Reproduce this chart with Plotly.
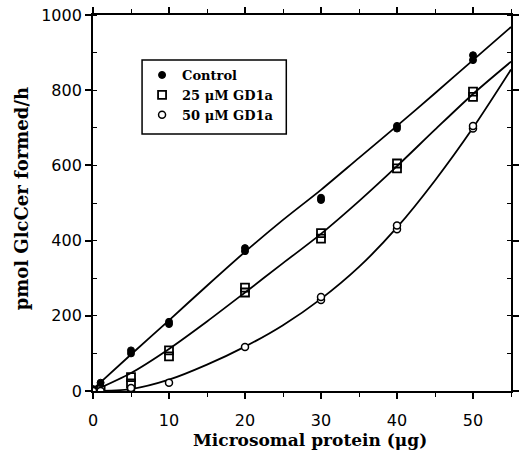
import plotly.graph_objects as go

# measured points (replicates)
x_ctrl = [0, 1, 5, 5, 10, 10, 20, 20, 30, 30, 40, 40, 50, 50]
y_ctrl = [5, 22, 100, 108, 178, 184, 372, 380, 508, 514, 698, 705, 880, 893]

x_gd25 = [0, 1, 5, 5, 10, 10, 20, 20, 30, 30, 40, 40, 50, 50]
y_gd25 = [0, 3, 20, 37, 92, 108, 262, 275, 405, 420, 592, 605, 782, 796]

x_gd50 = [0, 1, 5, 5, 10, 20, 30, 30, 40, 40, 50, 50]
y_gd50 = [0, 0, 3, 8, 22, 117, 242, 250, 430, 440, 698, 705]

# fitted curves
curve_x = [0, 5, 10, 15, 20, 25, 30, 35, 40, 45, 50, 55]
curve_ctrl = [5, 97, 188, 280, 370, 455, 535, 620, 705, 792, 880, 968]
curve_gd25 = [0, 48, 112, 185, 262, 340, 418, 505, 598, 695, 790, 876]
curve_gd50 = [0, 5, 30, 70, 118, 175, 245, 330, 435, 560, 700, 855]

names = ["Control", "25 \u03bcM GD1a", "50 \u03bcM GD1a"]
x_ticks = [0, 10, 20, 30, 40, 50]
y_ticks = [0, 200, 400, 600, 800, 1000]
x_title = "Microsomal protein (\u03bcg)"
y_title = "pmol GlcCer formed/h"

W, H = 524, 451
ML, MR, MT, MB = 93, 5, 15, 60
PW, PH = W - ML - MR, H - MT - MB


def px(x):
    return (x - ML) / PW


def py(y):
    return (H - MB - y) / PH


fig = go.Figure()
for cy in (curve_ctrl, curve_gd25, curve_gd50):
    fig.add_trace(go.Scatter(x=curve_x, y=cy, mode="lines", showlegend=False,
                             line=dict(color="black", width=1.8, shape="spline", smoothing=0.8),
                             hoverinfo="skip"))

fig.add_trace(go.Scatter(x=x_ctrl, y=y_ctrl, mode="markers", name=names[0],
                         marker=dict(symbol="circle", size=7, color="black",
                                     line=dict(color="black", width=1))))
fig.add_trace(go.Scatter(x=x_gd25, y=y_gd25, mode="markers", name=names[1],
                         marker=dict(symbol="square-open", size=8, color="black",
                                     line=dict(color="black", width=1.8))))
fig.add_trace(go.Scatter(x=x_gd50, y=y_gd50, mode="markers", name=names[2],
                         marker=dict(symbol="circle", size=7, color="white",
                                     line=dict(color="black", width=1.5))))

tickfont = dict(family="DejaVu Sans, Liberation Sans", size=16, color="black")
serif = "DejaVu Serif, Liberation Serif"

# legend frame
fig.add_shape(type="rect", xref="paper", yref="paper",
              x0=px(143), x1=px(290), y0=py(134), y1=py(60),
              line=dict(color="black", width=1.5), fillcolor="rgba(0,0,0,0)")

# axis titles
fig.add_annotation(text=x_title, xref="paper", yref="paper", x=px(314), y=py(440),
                   xanchor="center", yanchor="middle", showarrow=False,
                   font=dict(family=serif, size=17, color="black", weight="bold"))
fig.add_annotation(text=y_title, xref="paper", yref="paper", x=px(20), y=py(199),
                   xanchor="center", yanchor="middle", showarrow=False, textangle=-90,
                   font=dict(family=serif, size=18, color="black", weight="bold"))

fig.update_layout(
    width=W, height=H,
    margin=dict(l=ML, r=MR, t=MT, b=MB),
    paper_bgcolor="white", plot_bgcolor="white",
    showlegend=True,
    legend=dict(x=px(143), y=py(60), xanchor="left", yanchor="top",
                bgcolor="rgba(0,0,0,0)", borderwidth=0,
                font=dict(family=serif, size=13, color="black", weight="bold"),
                itemwidth=30, tracegroupgap=0),
    xaxis=dict(range=[0, 55], tickvals=x_ticks, ticktext=[str(v) for v in x_ticks],
               showgrid=False, zeroline=False, showline=True, linecolor="black", linewidth=1.8,
               mirror="allticks", ticks="outside", ticklen=6, tickwidth=1.5, tickcolor="black",
               minor=dict(dtick=5, tick0=0, ticks="outside", ticklen=4, tickwidth=1.2, tickcolor="black"),
               tickfont=tickfont, ticklabelstandoff=8),
    yaxis=dict(range=[0, 1000], tickvals=y_ticks, ticktext=[str(v) for v in y_ticks],
               showgrid=False, zeroline=False, showline=True, linecolor="black", linewidth=1.8,
               mirror="allticks", ticks="outside", ticklen=6, tickwidth=1.5, tickcolor="black",
               minor=dict(dtick=100, tick0=0, ticks="inside", ticklen=4, tickwidth=1.2, tickcolor="black"),
               tickfont=tickfont),
)

fig.write_html("out.html")
